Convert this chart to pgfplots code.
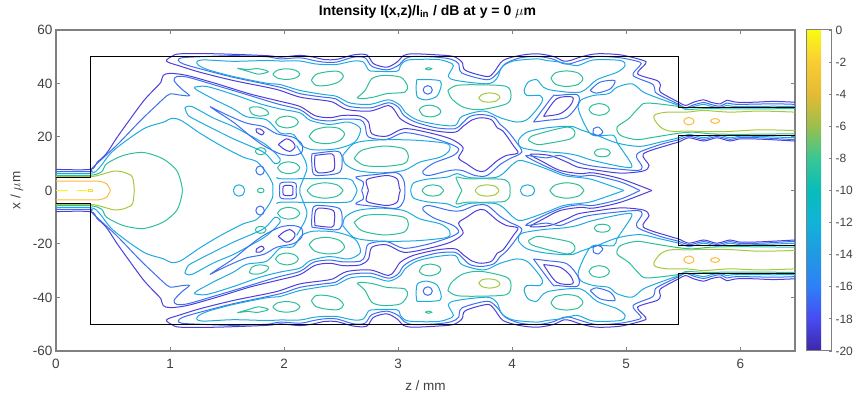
\documentclass[border=0pt]{standalone}
\usepackage{pgfplots}
\usepackage{fontspec}
\setmainfont{Liberation Sans}
\pgfplotsset{compat=1.18}
\definecolor{ca}{RGB}{76,62,220}
\definecolor{cb}{RGB}{60,110,240}
\definecolor{cc}{RGB}{30,170,225}
\definecolor{cd}{RGB}{45,190,155}
\definecolor{ce}{RGB}{165,200,60}
\definecolor{cf}{RGB}{252,185,60}
\definecolor{cg}{RGB}{248,245,15}
\definecolor{axg}{gray}{0.5}
\definecolor{txg}{gray}{0.25}
\pgfplotsset{colormap={parula}{rgb=(.2422,.1504,.6603) rgb=(.2769,.2950,.9500) rgb=(.1800,.5000,.9750) rgb=(.1280,.6000,.8900) rgb=(.0700,.7000,.8500) rgb=(.0300,.7400,.7300) rgb=(.2200,.7800,.5800) rgb=(.6000,.7500,.3000) rgb=(.9000,.7300,.2000) rgb=(.9800,.8000,.2000) rgb=(.976,.9839,.0805)}}
\newcommand\C[2]{\addplot[#1,smooth,no marks,line width=1pt] coordinates {#2};\addplot[#1,smooth,no marks,line width=1pt,y filter/.expression={-y}] coordinates {#2};}
\begin{document}
\begin{tikzpicture}
\path[use as bounding box] (-56pt,-43pt) rectangle (807pt,351pt);
\begin{axis}[at={(0pt,0pt)},anchor=south west,scale only axis,width=739pt,height=321pt,
 xmin=0,xmax=6.48,ymin=-60,ymax=60,xtick={0,1,...,6},ytick={-60,-40,...,60},
 axis line style={axg,line width=1.2pt},tick style={axg,line width=1pt},tick align=inside,major tick length=4pt,
 tick label style={font=\fontsize{13.5}{15}\selectfont,text=txg},
 xticklabel style={yshift=-5pt},
 /pgf/number format/assume math mode=true,
 xlabel={z / mm},ylabel={x / $\mu$m},
 label style={font=\fontsize{13.5}{15}\selectfont,text=txg},
 xlabel style={yshift=-5pt},ylabel style={yshift=3pt},
 title={\textbf{Intensity I(x,z)/I\textsubscript{in} / dB at y = 0 $\mu$m}},
 title style={font=\fontsize{14}{15}\selectfont,yshift=2pt,xshift=2pt},
 point meta min=-20,point meta max=0,colorbar,
 colorbar style={at={(1.0162,1)},anchor=north west,width=25pt,height=321pt,ytick={-20,-18,...,0},
   ytick pos=right,yticklabel pos=right,tick align=inside,major tick length=3pt,
   axis line style={axg,line width=1pt},tick style={axg,line width=.8pt},
   tick label style={font=\fontsize{12}{14}\selectfont,text=txg},
   /pgf/number format/assume math mode=true},
]
% dark main contour
\C{ca}{(0,7.9)(0.30,7.9)(0.36,10.5)(0.44,13.7)(0.53,19.5)(0.62,24.9)(0.77,33.6)(0.88,38.6)(0.92,40.5)(0.94,43)(1.0,43.8)(1.15,43)(1.41,39.9)(1.70,36.1)(1.94,33.6)(2.14,31.4)(2.27,28)(2.40,27.2)(2.52,28.1)(2.67,27.8)(2.74,25.6)(2.77,21.2)(2.90,20.3)(3.05,23.1)(3.25,21.8)(3.46,19.3)(3.57,16)(3.53,12.2)(3.60,10)(3.69,7.5)(3.76,7.3)(3.87,11.2)(3.95,13.1)(4.05,14)(4.01,16.8)(3.92,22.2)(3.87,23.4)(3.82,26.4)(3.73,27.2)(3.65,26.4)(3.57,24)(3.50,21.8)(3.34,22.2)(3.13,24.3)(3.02,26.8)(2.97,29.9)(2.915,31.8)(2.755,29.7)(2.55,30.3)(2.43,33)(2.345,33.7)(2.14,34.9)(1.965,37.4)(1.848,38.6)(1.556,41.1)(1.263,44.2)(1.088,46.5)(.985,47.9)(.97,48.8)(1.015,50.1)(1.088,51.1)(1.41,51.1)(1.85,50.4)(1.965,49.85)(2.14,50.5)(2.26,49.85)(2.345,49)(2.46,49)(2.61,50.7)(2.725,50.7)(2.785,47.4)(2.9,46.1)(2.99,48)(3.05,50.5)(3.135,51.1)(3.34,50.7)(3.485,50.1)(3.56,48)(3.59,44.9)(3.78,42.6)(3.84,44.2)(3.92,48.6)(4.07,50.5)(4.22,51.1)(4.36,50.1)(4.45,48.4)(4.51,48.6)(4.6,49.9)(4.74,51.1)(4.95,50.7)(5.15,48.6)(5.17,47.4)(5.10,43.6)(5.27,41.1)(5.3,39.3)(5.3,36.8)(5.46,33)(5.52,31.8)(5.59,33)(5.68,33.9)(5.74,33)(5.825,32.4)(5.88,33.7)(5.97,33)(6.12,33)(6.29,33.3)(6.48,33)}
% blue main contour
\C{cb}{(0,7.1)(0.3,7.1)(.32,8.5)(.53,16.8)(.74,26.1)(.88,31.8)(.94,34.2)(1.0,36.1)(1.10,35.6)(1.17,35.5)(1.10,38)(1.035,41.1)(1.06,42.6)(1.16,42.3)(1.41,39.2)(1.70,35.5)(1.94,32.4)(2.14,30.2)(2.26,26.8)(2.40,26)(2.52,26.7)(2.67,26.4)(2.71,24.3)(2.74,20)(2.9,19.1)(3.05,21.6)(3.25,20.2)(3.44,17.7)(3.53,15.6)(3.485,13.1)(3.31,10.2)(3.216,7.1)(3.265,5.6)(3.456,7.5)(3.56,7.5)(3.675,5.6)(3.78,5.6)(3.895,9.7)(3.98,11.9)(4.085,14.4)(4.025,18.7)(3.95,22.7)(3.895,24.7)(3.84,27.4)(3.73,28.4)(3.63,27.7)(3.56,25)(3.50,23.1)(3.34,23.4)(3.15,25.6)(3.05,28.1)(3,31.2)(2.915,32.8)(2.755,30.9)(2.565,31.5)(2.45,34.3)(2.345,34.9)(2.14,36.2)(1.965,38.6)(1.556,42.3)(1.263,45.5)(1.117,47.3)(1.073,48.6)(1.10,49.6)(1.263,50)(1.556,50.4)(1.85,50)(1.965,49.2)(2.14,49.6)(2.26,48.6)(2.345,48)(2.46,48)(2.61,49.85)(2.71,49.6)(2.77,46.4)(2.9,45.1)(3.0,46.7)(3.06,49.2)(3.135,50.1)(3.34,49.85)(3.47,49)(3.53,47.4)(3.56,43.9)(3.78,41.4)(3.865,43.6)(3.94,47.4)(4.07,49.6)(4.22,50.1)(4.35,49.2)(4.45,47.4)(4.51,47.4)(4.6,48.6)(4.74,50.1)(4.95,49.6)(5.12,48)(5.12,46.7)(5.06,43)(5.225,39.9)(5.25,38)(5.27,36.2)(5.46,32.2)(5.52,30.9)(5.59,32)(5.68,32.9)(5.74,32.2)(5.825,31.5)(5.88,32.7)(5.97,32.2)(6.29,32.4)(6.48,32.2)}
% lower dark branch from output guide to centre lobe
\C{ca}{(6.48,18.5)(6.175,19.2)(6,19.3)(5.91,18.5)(5.795,19.7)(5.68,18.5)(5.55,19.7)(5.46,18.1)(5.385,17.2)(5.15,13.7)(5.2,9.4)(5.15,7.3)(4.95,6.5)(4.71,7.8)(4.57,8.8)(4.48,10.6)(4.33,13.1)(4.16,13.5)(4.275,10.6)(4.42,7.5)(4.6,6.3)(4.71,6.6)(4.95,4.4)(5.225,0)}
\C{cb}{(6.48,19)(6.175,19.7)(6,19.8)(5.91,19.1)(5.795,20.2)(5.68,19.1)(5.55,20.3)(5.46,19)(5.3,17.2)(5.12,14.4)(5.09,12.5)(5.14,8.8)(5.08,7.5)(4.71,9.1)(4.57,10.6)(4.42,13.1)(4.30,12.2)(4.12,13)(4.275,9.4)(4.45,6.3)(4.6,5.3)(4.71,5.6)(4.95,3.2)(5.12,0)}
% light-blue contours
\C{cc}{(6.48,19.7)(6.175,20.2)(6,20.3)(5.91,19.7)(5.795,20.8)(5.68,19.7)(5.55,21)(5.46,19.7)(5.3,18.1)(5.12,16.5)(4.924,17.7)(4.743,20.6)(4.6,22.7)(4.51,24)(4.3,23.4)(4.13,21.8)(4.055,18.7)(4.085,16)(4.275,14.6)(4.45,14)(4.57,13.1)(4.71,11.2)(4.977,8.8)(5.05,9.4)(4.924,17.7)(4.89,20.6)(4.71,20.6)(4.64,24.3)(4.58,30.5)(4.6,33.7)(4.71,35.5)(4.845,36.2)(4.92,38.6)(5.05,39.9)(5.15,36.8)(5.27,34.7)(5.46,31.8)(5.52,30.8)(5.59,31.4)(5.68,32.2)(5.74,31.5)(5.825,31)(5.88,31.8)(5.97,31.4)(6.29,31.5)(6.48,31.4)}
\C{cc}{(1.234,47.9)(1.25,46.8)(1.336,45.1)(1.556,42.6)(1.848,40.1)(1.965,39.6)(2.14,37.4)(2.345,35.9)(2.46,35.2)(2.58,32.7)(2.755,32.2)(2.915,33.9)(3.02,31.8)(3.06,29.3)(3.165,26.4)(3.34,24.7)(3.50,24.3)(3.56,27.7)(3.75,29.7)(3.895,27.2)(4.04,25.6)(4.14,26.8)(4.26,33)(4.245,35.5)(4.13,35.5)(4.105,37.4)(4.14,40.5)(4.215,41.4)(4.275,38.6)(4.36,37.4)(4.6,36.8)(4.743,41.4)(4.92,44.2)(4.99,46.7)(4.95,48.6)(4.71,48.8)(4.57,46.7)(4.42,48)(4.30,48.6)(4.215,49.2)(4.01,48.4)(3.91,46.1)(3.865,41.8)(3.78,39.9)(3.515,41.1)(3.44,42.6)(3.485,46.7)(3.44,48)(3.34,49)(3.09,48.8)(3.02,46.7)(2.99,44.6)(2.785,44.6)(2.74,45.1)(2.695,48)(2.61,48.4)(2.46,47.1)(2.345,47.1)(2.26,47.4)(2.14,48.4)(1.965,48.4)(1.848,48.6)(1.556,48.3)(1.32,48.8)(1.25,48.6)(1.234,47.9)}
\C{cc}{(0,6.4)(.3,6.4)(.38,8.5)(.503,14.9)(.766,23)(.94,25.5)(1.015,27)(1.10,26.1)(1.26,21.5)(1.44,16.9)(1.64,12.5)(1.76,10.8)(1.848,6.5)(1.90,2.5)(1.90,0)}
\C{cc}{(1.213,38.6)(1.32,38.9)(1.556,35.9)(1.79,32.4)(1.965,30.5)(2.14,29)(2.23,26.2)(2.40,24.7)(2.565,25.6)(2.67,23.1)(2.62,18.1)(2.46,15.6)(2.26,15.2)(2.155,16.8)(2.08,21)(1.965,21.5)(1.848,26.4)(1.67,27.6)(1.556,30.5)(1.38,34.2)(1.234,37.6)(1.213,38.6)}
\C{cc}{(1.13,30.9)(1.19,31.4)(1.38,27.1)(1.556,23.9)(1.73,19.9)(1.85,16.8)(1.965,11.8)(1.92,10)(1.82,14.3)(1.556,19.3)(1.38,23)(1.234,26.2)(1.16,28)(1.13,30.9)}
\C{cc}{(2.11,16.8)(2.185,11.2)(2.2,8.1)(2.17,4.4)(2.14,1.2)(2.14,0)}
\C{cc}{(1.936,5)(1.965,4.4)(2.17,4.4)(2.55,4.4)(2.615,2.5)(2.64,0)}
\C{cc}{(2.515,13.1)(2.61,17.5)(2.755,18.7)(2.96,19)(3.19,18.7)(3.43,17.5)(3.45,15)(3.37,12.5)(3.19,10.6)(3.05,7.5)(2.84,6.6)(2.64,7.5)(2.535,10)(2.515,13.1)}
\C{cc}{(3.11,0)(3.135,2.8)(3.25,4.2)(3.43,5)(3.515,6.3)(3.63,4.8)(3.84,4.8)(3.92,6.3)(4.01,10)(4.085,11.2)(4.30,8.1)(4.45,5.6)(4.6,4.8)(4.71,4)(4.98,0)}
\C{cc}{(3.164,41.4)(3.37,40.9)(3.345,35.5)(3.25,33.9)(3.17,34.9)(3.158,38.6)(3.164,41.4)}
\C{cc}{(1.555,0)(1.57,1.5)(1.605,2.1)(1.64,1.5)(1.655,0)}
\C{cc}{(4.072,0)(4.09,1.5)(4.135,2.1)(4.18,1.5)(4.198,0)}
% blue and dark islands
\C{cb}{(1.35,31.4)(1.497,28.3)(1.67,25.2)(1.82,23.9)(1.936,21.2)(2.08,19.9)(2.155,17.4)(2.155,14.3)(2.08,13.1)(1.965,13.7)(1.82,16.8)(1.70,20.5)(1.556,25.5)(1.41,29.6)(1.35,31.4)}
\C{cb}{(2.243,13.7)(2.45,14.7)(2.506,13.1)(2.49,6.9)(2.316,5.6)(2.257,6.2)(2.243,10)(2.243,13.7)}
\C{cb}{(1.96,0)(1.965,2.6)(2.0,3.1)(2.07,3.1)(2.105,2.5)(2.105,0)}
\C{cb}{(2.68,0)(2.696,3.1)(2.63,5)(2.81,6)(2.99,6.6)(3.05,3.7)(3.06,0)}
\C{cb}{(3.22,37.6)(3.232,38.7)(3.26,39.2)(3.288,38.7)(3.30,37.6)(3.288,36.5)(3.26,36)(3.232,36.5)(3.22,37.6)}
\C{cb}{(1.753,7.5)(1.764,8.7)(1.79,9.2)(1.816,8.7)(1.827,7.5)(1.816,6.3)(1.79,5.8)(1.764,6.3)(1.753,7.5)}
\C{cb}{(4.684,37.4)(4.77,40.5)(4.9,41.1)(4.86,38)(4.74,36.4)(4.684,37.4)}
\C{cb}{(4.713,23.1)(4.757,23.7)(4.795,21.8)(4.757,20.6)(4.713,21.2)(4.713,23.1)}
\C{cb}{(4.187,25.6)(4.35,34.9)(4.39,35.5)(4.57,35.8)(4.58,32.4)(4.48,27.4)(4.3,26.2)(4.187,25.6)}
\C{ca}{(4.275,27.7)(4.39,34.3)(4.53,34.9)(4.51,31.8)(4.42,28.7)(4.275,27.7)}
\C{ca}{(1.754,23)(1.79,23)(1.825,21.8)(1.804,20.8)(1.76,21.8)(1.754,23)}
\C{ca}{(1.95,17.2)(2.02,19.3)(2.08,18)(2.096,16.2)(2.05,14.6)(1.994,15.6)(1.95,17.2)}
\C{ca}{(2.27,13.1)(2.418,13.7)(2.44,11.9)(2.433,7.5)(2.30,6.6)(2.27,8.7)(2.27,13.1)}
\C{ca}{(1.99,0)(1.992,1.5)(2.01,1.9)(2.06,1.9)(2.076,1.5)(2.076,0)}
\C{ca}{(2.74,0)(2.72,3.1)(2.74,4.4)(2.9,5.6)(2.99,4.4)(3.01,1.2)(3.02,0)}
% teal contours
\C{cd}{(0,5.7)(.3,5.7)(.40,7)(.444,10)(.59,13.1)(.766,14.2)(.94,11.8)(1.058,7.5)(1.10,2.5)(1.108,0)}
\C{cd}{(6.48,30.6)(5.97,30.5)(5.7,30.6)(5.52,30.3)(5.46,31.4)(5.18,32.7)(5.11,30.9)(5.02,26.8)(4.92,23.7)(4.95,20.6)(5.09,19)(5.21,19.7)(5.46,21.4)(5.59,21.8)(5.74,21.2)(5.97,21)(6.48,21.2)}
\C{cd}{(1.59,45.7)(1.687,45.2)(1.76,45.6)(1.848,44.8)(1.854,44.2)(1.775,43.5)(1.687,44.5)(1.59,45.7)}
\C{cd}{(1.902,43.5)(1.937,44.9)(2.02,45.5)(2.103,44.9)(2.138,43.5)(2.103,42.1)(2.02,41.5)(1.937,42.1)(1.902,43.5)}
\C{cd}{(2.24,41.2)(2.28,43.4)(2.38,44.4)(2.48,44.5)(2.52,42.8)(2.48,40.6)(2.38,39.3)(2.28,39.3)(2.24,41.2)}
\C{cd}{(2.64,34.7)(2.71,37.4)(2.77,41.8)(2.87,43)(3.02,42.4)(3.08,39.3)(3.06,36.8)(2.9,36.2)(2.785,34.9)(2.68,34.3)(2.64,34.7)}
\C{cd}{(3.238,45.5)(3.266,45.9)(3.294,45.5)(3.266,45.1)(3.238,45.5)}
\C{cd}{(3.185,30.2)(3.215,31.4)(3.28,31.9)(3.35,31.0)(3.375,29.4)(3.345,28.1)(3.28,27.5)(3.215,28.2)(3.185,30.2)}
\C{cd}{(3.436,37.4)(3.515,39.3)(3.72,39.5)(3.95,38.9)(3.99,35.5)(3.95,32.4)(3.72,30.2)(3.57,31.2)(3.47,34.3)(3.436,37.4)}
\C{cd}{(4.34,42)(4.38,44)(4.48,44.7)(4.58,43.9)(4.62,41.8)(4.58,39.7)(4.48,38.9)(4.38,39.7)(4.34,42)}
\C{cd}{(1.925,25.6)(1.955,27.1)(2.025,27.8)(2.095,27.1)(2.125,25.6)(2.095,24.1)(2.025,23.4)(1.955,24.1)(1.925,25.6)}
\C{cd}{(1.695,30.6)(1.72,31.2)(1.78,31.2)(1.84,30.2)(1.865,28.8)(1.84,28.1)(1.78,27.8)(1.72,28.6)(1.695,30.6)}
\C{cd}{(2.22,20.2)(2.267,22.6)(2.375,23.7)(2.483,23.2)(2.53,21.1)(2.483,18.6)(2.375,17.5)(2.267,18.2)(2.22,20.2)}
\C{cd}{(2.615,11.9)(2.68,15)(2.87,16.6)(3.05,15.6)(3.09,12.5)(3.05,10)(2.87,9)(2.7,9.4)(2.615,11.9)}
\C{cd}{(1.748,14.7)(1.762,15.6)(1.795,16)(1.828,15.6)(1.842,14.7)(1.828,13.8)(1.795,13.4)(1.762,13.8)(1.748,14.7)}
\C{cd}{(1.943,8.5)(1.972,10)(2.04,10.7)(2.108,10)(2.137,8.5)(2.108,7)(2.04,6.3)(1.972,7)(1.943,8.5)}
\C{cd}{(4.143,18.7)(4.187,20.6)(4.48,23.7)(4.55,21.8)(4.51,19.3)(4.3,17.5)(4.216,17.2)(4.143,18.7)}
\C{cd}{(4.673,30.3)(4.70,31.8)(4.763,32.5)(4.826,31.8)(4.853,30.3)(4.826,28.8)(4.763,28.1)(4.70,28.8)(4.673,30.3)}
\C{cd}{(4.72,14.1)(4.74,15.2)(4.79,15.6)(4.84,15.2)(4.86,14.1)(4.84,13)(4.79,12.6)(4.74,13)(4.72,14.1)}
\C{cd}{(1.765,0)(1.774,.6)(1.795,.85)(1.816,.6)(1.825,0)}
\C{cd}{(2.202,0)(2.25,2)(2.36,2.9)(2.47,2)(2.518,0)}
\C{cd}{(3.209,0)(3.24,1.5)(3.304,2.1)(3.37,1.5)(3.399,0)}
\C{cd}{(4.33,0)(4.375,2)(4.48,2.9)(4.585,2)(4.63,0)}
\C{cd}{(3.56,0)(3.53,2.5)(3.51,5)(3.6,4.4)(3.78,4.4)(3.94,4)(3.98,1.9)(3.98,0)}
% yellow-green, orange, yellow
\C{ce}{(0,5.2)(.30,5.2)(.40,6)(.503,7.2)(.58,7)(.66,5.6)(.678,3.7)(.687,0)}
\C{ce}{(6.48,29.3)(6.175,29.7)(5.91,29.3)(5.68,29.9)(5.53,29.3)(5.36,29.3)(5.255,28.4)(5.245,26.8)(5.3,23.7)(5.385,22.2)(5.55,22.2)(5.68,22)(5.91,22.1)(6.175,22.7)(6.48,22.4)}
\C{ce}{(3.707,34.6)(3.735,35.9)(3.80,36.5)(3.865,36)(3.893,34.9)(3.865,33.6)(3.80,33)(3.735,33.4)(3.707,34.6)}
\C{ce}{(3.675,0)(3.705,1.5)(3.78,2.1)(3.855,1.5)(3.885,0)}
\C{cf}{(0,3.5)(.33,3.5)(.386,3.4)(.444,2.5)(.477,0)}
\C{cf}{(5.505,25.9)(5.52,26.9)(5.55,27.3)(5.58,26.9)(5.595,25.9)(5.58,24.9)(5.55,24.5)(5.52,24.9)(5.505,25.9)}
\C{cf}{(5.74,26)(5.752,26.6)(5.78,26.9)(5.808,26.6)(5.82,26)(5.808,25.4)(5.78,25.1)(5.752,25.4)(5.74,26)}
\addplot[cg,line width=1.4pt,no marks] coordinates {(0,0)(0.108,0)};
\addplot[cg,line width=1.4pt,no marks] coordinates {(0.187,0)(0.27,0)};
\addplot[cg!60!cf,line width=.8pt,no marks] coordinates {(.284,.4)(.322,.4)(.322,-.4)(.284,-.4)(.284,.4)};
% waveguide outline
\addplot[black,line width=1.1pt,no marks] coordinates {(0,5)(.3,5)(.3,50)(5.46,50)(5.46,31)(6.48,31)};
\addplot[black,line width=1.1pt,no marks] coordinates {(0,-5)(.3,-5)(.3,-50)(5.46,-50)(5.46,-31)(6.48,-31)};
\addplot[black,line width=1.1pt,no marks] coordinates {(6.48,20.7)(5.46,20.7)(5.46,-20.7)(6.48,-20.7)};
\end{axis}
\end{tikzpicture}
\end{document}
